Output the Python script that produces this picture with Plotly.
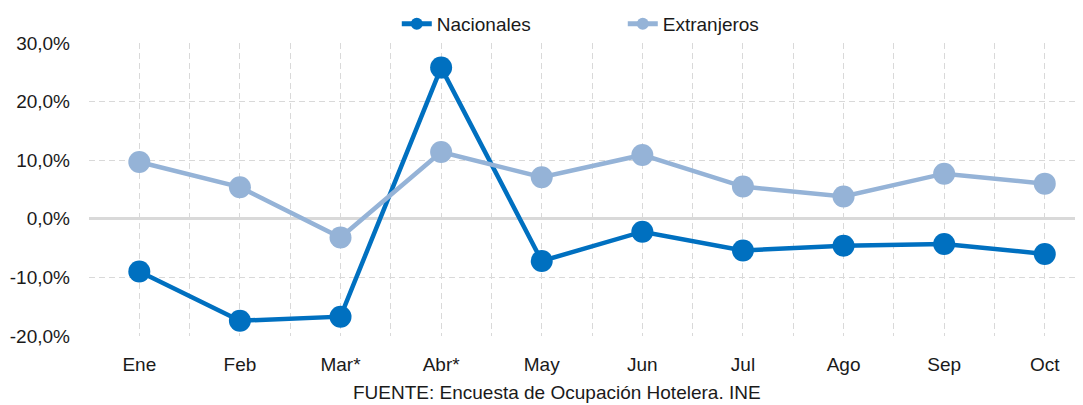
import plotly.graph_objects as go

months = ["Ene", "Feb", "Mar*", "Abr*", "May", "Jun", "Jul", "Ago", "Sep", "Oct"]
nacionales = [-9.0, -17.4, -16.7, 25.8, -7.2, -2.2, -5.4, -4.6, -4.3, -6.0]
extranjeros = [9.7, 5.4, -3.2, 11.4, 7.1, 10.9, 5.5, 3.8, 7.7, 6.0]
y_ticks = [-20, -10, 0, 10, 20, 30]
y_labels = ["-20,0%", "-10,0%", "0,0%", "10,0%", "20,0%", "30,0%"]
source = "FUENTE: Encuesta de Ocupación Hotelera. INE"

FONT = "Liberation Sans"
DASH = "6px,4px"
xs = list(range(len(months)))

fig = go.Figure()
fig.add_trace(go.Scatter(
    x=xs, y=nacionales, name="Nacionales", mode="lines+markers",
    line=dict(color="#0070c0", width=4.5),
    marker=dict(color="#0070c0", size=22),
))
fig.add_trace(go.Scatter(
    x=xs, y=extranjeros, name="Extranjeros", mode="lines+markers",
    line=dict(color="#95b3d7", width=4.5),
    marker=dict(color="#95b3d7", size=22),
))

# the page body has an 8px default margin, so the figure is drawn 8px smaller
fig.update_layout(
    width=1075, height=397,
    margin=dict(l=81, r=0, t=35, b=69, autoexpand=False),
    paper_bgcolor="white", plot_bgcolor="white",
    font=dict(family=FONT, size=19, color="#1a1a1a"),
    showlegend=True,
    legend=dict(orientation="h", x=0.537, xanchor="center", y=1.065, yanchor="middle",
                font=dict(size=19), bgcolor="rgba(0,0,0,0)", itemsizing="constant",
                entrywidth=181, entrywidthmode="pixels"),
    xaxis=dict(
        range=[-0.5, 9.38], tickmode="array", tickvals=xs, ticktext=months,
        showgrid=True, gridcolor="#d9d9d9", griddash=DASH, gridwidth=1,
        minor=dict(tickmode="linear", tick0=-0.5, dtick=1, showgrid=True,
                   gridcolor="#d9d9d9", griddash=DASH, gridwidth=1),
        zeroline=False, showline=False, ticks="", ticklabelstandoff=15,
        fixedrange=True,
    ),
    yaxis=dict(
        range=[-20, 30], tickmode="array", tickvals=y_ticks, ticktext=y_labels,
        showgrid=True, gridcolor="#d9d9d9", griddash=DASH, gridwidth=1,
        zeroline=True, zerolinecolor="#d9d9d9", zerolinewidth=3,
        showline=False, ticks="", ticklabelstandoff=18,
    ),
    annotations=[dict(
        text=source, xref="paper", yref="paper", x=0.471, y=-0.193, yanchor="middle",
        xanchor="center", showarrow=False, font=dict(size=19, color="#1a1a1a"),
    )],
)

fig.write_html("out.html")
